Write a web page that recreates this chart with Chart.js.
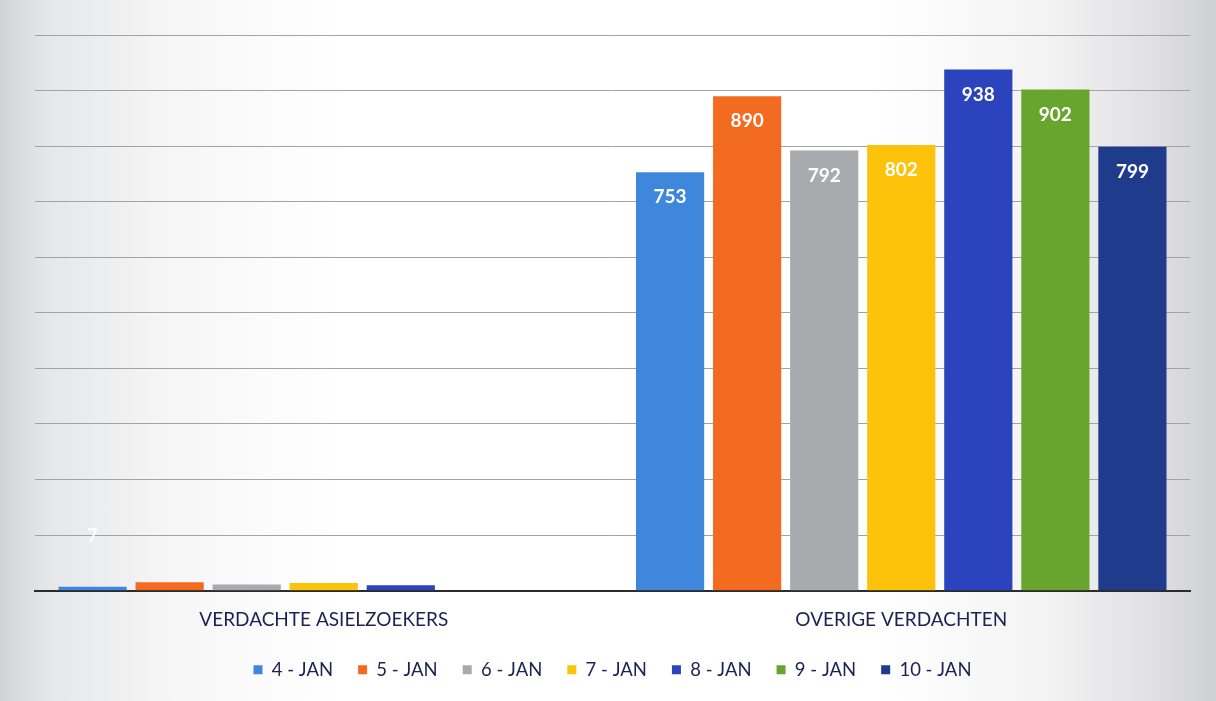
<!DOCTYPE html>
<html>
<head>
<meta charset="utf-8">
<script src="https://cdn.jsdelivr.net/npm/chart.js@4/dist/chart.umd.min.js"></script>
<style>
html,body{margin:0;padding:0;}
body{width:1216px;height:701px;overflow:hidden;
background:linear-gradient(to right,#d2d3d6 0%,#e6e7e9 4%,#f6f6f6 14%,#ffffff 28%,#ffffff 72%,#f3f3f4 86%,#e0e0e2 95%,#cfd0d3 100%);}
#wrap{position:absolute;left:0;top:0;width:1216px;height:701px;}
</style>
</head>
<body>
<div id="wrap"><canvas id="c" width="1216" height="701"></canvas></div>
<script>
const categories = ['VERDACHTE ASIELZOEKERS', 'OVERIGE VERDACHTEN'];
const seriesLabels = ['4 - JAN', '5 - JAN', '6 - JAN', '7 - JAN', '8 - JAN', '9 - JAN', '10 - JAN'];
const jan4 = [7, 753];
const jan5 = [15, 890];
const jan6 = [11, 792];
const jan7 = [14, 802];
const jan8 = [10, 938];
const jan9 = [0, 902];
const jan10 = [0, 799];
const seriesValues = [jan4, jan5, jan6, jan7, jan8, jan9, jan10];
const seriesColors = ['#3f86dd', '#f36a21', '#a9aaad', '#fdc20a', '#2b43bd', '#67a52f', '#1f3b8c'];

const labelPlugin = {
  id: 'valueLabels',
  afterDatasetsDraw(chart) {
    const ctx = chart.ctx;
    ctx.save();
    ctx.font = 'bold 19px Lato';
    ctx.textAlign = 'center';
    ctx.textBaseline = 'middle';
    chart.data.datasets.forEach((ds, i) => {
      const meta = chart.getDatasetMeta(i);
      meta.data.forEach((bar, j) => {
        const v = ds.data[j];
        if (!v) return;
        const h = bar.base - bar.y;
        if (h <= 50 && i !== 0) return;
        const y = h > 50 ? bar.y + 25 : bar.base - 54;
        ctx.fillStyle = h > 50 ? '#ffffff' : 'rgba(255,255,255,0.85)';
        ctx.fillText(String(v), bar.x, y);
      });
    });
    ctx.restore();
  }
};

new Chart(document.getElementById('c'), {
  type: 'bar',
  data: {
    labels: categories,
    datasets: seriesLabels.map((l, i) => ({
      label: l,
      data: seriesValues[i],
      backgroundColor: seriesColors[i],
      borderWidth: 0,
      categoryPercentage: 0.934,
      barPercentage: 0.885
    }))
  },
  options: {
    responsive: false,
    animation: false,
    layout: { padding: { left: 35, right: 26, top: 35, bottom: 12 } },
    plugins: {
      tooltip: { enabled: false },
      legend: {
        position: 'bottom',
        labels: {
          font: { family: 'Lato', size: 18.5 },
          color: '#1c2350',
          boxWidth: 9,
          boxHeight: 9,
          padding: 25
        }
      }
    },
    scales: {
      x: {
        grid: { display: false },
        border: { display: true, color: '#2b2b2b', width: 2 },
        ticks: { font: { family: 'Lato', size: 19 }, color: '#1c2350', padding: 10 },
        afterFit(s) { s.height -= 6; }
      },
      y: {
        min: 0, max: 1000,
        ticks: { display: false, stepSize: 100 },
        grid: { color: '#a3a3a3', lineWidth: 1, drawTicks: false },
        border: { display: false },
        afterFit(s) { s.width = 0; }
      }
    }
  },
  plugins: [labelPlugin]
});
</script>
</body>
</html>
